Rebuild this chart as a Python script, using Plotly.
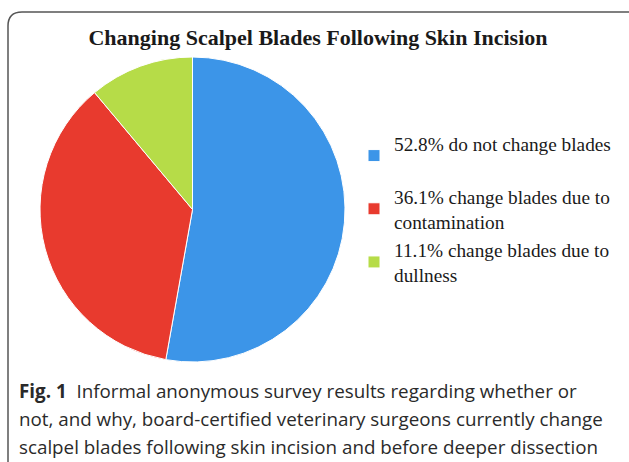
import plotly.graph_objects as go

W, H = 629, 462

labels = ["52.8% do not change blades<br> ",
          "36.1% change blades due to<br>contamination",
          "11.1% change blades due to<br>dullness"]
values = [52.8, 36.1, 11.1]
colors = ["#3C95E8", "#E83A2E", "#B6DC48"]

title_text = "<b>Changing Scalpel Blades Following Skin Incision</b>"
caption_lines = [
    "<b>Fig. 1</b>  Informal anonymous survey results regarding whether or",
    "not, and why, board-certified veterinary surgeons currently change",
    "scalpel blades following skin incision and before deeper dissection",
]

def px(x):
    return x / W

def py(y):
    return 1 - y / H

fig = go.Figure()
fig.add_trace(go.Pie(
    labels=labels, values=values, sort=False, direction="clockwise", rotation=0,
    marker=dict(colors=colors, line=dict(color="white", width=1)),
    textinfo="none", hoverinfo="label+percent",
    domain=dict(x=[px(40), px(345)], y=[py(362), py(57)]),
))

# rounded border
x0, y0, x1, y1, r = 8, 12, 640, 475, 14
path = (f"M {px(x0)},{py(y0 + r)} Q {px(x0)},{py(y0)} {px(x0 + r)},{py(y0)} "
        f"L {px(x1)},{py(y0)} M {px(x0)},{py(y0 + r)} L {px(x0)},{py(y1)}")
fig.add_shape(type="path", xref="paper", yref="paper", path=path,
              line=dict(color="#555555", width=1.5))

for i, line in enumerate(caption_lines):
    fig.add_annotation(text=line, xref="paper", yref="paper", x=px(17), y=py(391 + 28 * i),
                       xanchor="left", yanchor="middle", showarrow=False,
                       font=dict(family="Open Sans", size=18.8, color="#2a2a2a"))

fig.update_layout(
    width=W, height=H, margin=dict(l=0, r=0, t=0, b=0),
    paper_bgcolor="white", plot_bgcolor="white",
    title=dict(text=title_text, x=px(318), xanchor="center", y=py(37), yanchor="middle",
               font=dict(family="Liberation Serif", size=22, color="#1a1a1a")),
    legend=dict(x=px(354), y=py(124), xanchor="left", yanchor="top",
                font=dict(family="Liberation Serif", size=19.3, color="#1a1a1a"),
                itemwidth=30, tracegroupgap=0, bgcolor="rgba(0,0,0,0)"),
)

fig.write_html("out.html")
